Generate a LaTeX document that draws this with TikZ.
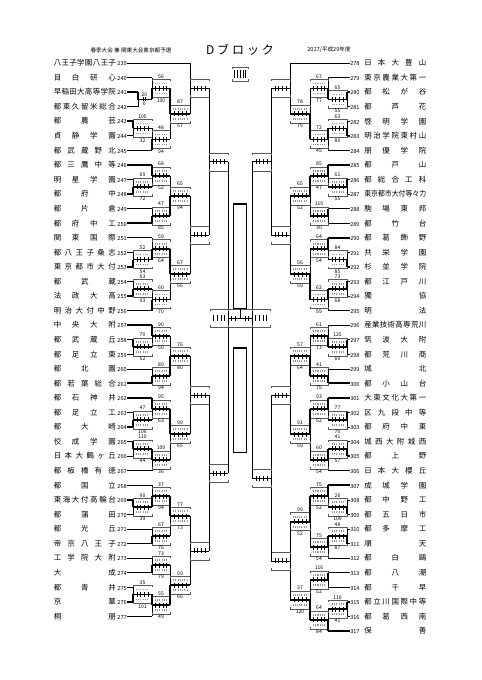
\documentclass[tikz,border=0pt]{standalone}
\usepackage{fontspec}
\setmainfont{Noto Sans CJK JP}
\usepackage{graphicx}

% names spread over the full width
\newcommand{\jn}[1]{\makebox[46.5pt][s]{\jsp#1\relax}}
\def\jsp#1{\ifx#1\relax\else#1\expandafter\jspnext\fi}
\def\jspnext#1{\ifx#1\relax\else\hfill#1\expandafter\jspnext\fi}
\newcommand{\jnx}[1]{\makebox[46.5pt]{\scalebox{0.92}[1]{#1}}}
\newcommand{\tn}[1]{{\fontsize{4.2}{5}\selectfont#1}}

% played game: name, joint x, far x, upper y, lower y, upper score, lower score
\newcommand{\game}[7]{%
  \pgfmathsetmacro{\gy}{(#4+#5)/2}%
  \draw[joint] (#2,#4) -- (#2,#5);
  \draw[bracket] (#2,\gy-7) -- (#2,\gy-9) -- (#3,\gy-9) -- (#3,\gy-7);
  \draw[bracket] (#2,\gy+7) -- (#2,\gy+9) -- (#3,\gy+9) -- (#3,\gy+7);
  \draw[digits] ({#2+0.15*(#3-#2)},\gy-5) -- ({#2+0.85*(#3-#2)},\gy-5);
  \draw[digits] ({#2+0.15*(#3-#2)},\gy+5) -- ({#2+0.85*(#3-#2)},\gy+5);
  \draw[win] (#2,\gy) -- (#3,\gy);
  \foreach \f in {0.2,0.4,0.6,0.8} \draw[tick] ({#2+\f*(#3-#2)},\gy-2.5) -- ++(0,5);
  \ifnum#6>#7\relax \draw[win] (#2,#4) -- (#2,\gy); \else \draw[win] (#2,#5) -- (#2,\gy); \fi
  \node[score, above] at ({(#2+#3)/2},\gy-9) {#6};
  \node[score, below] at ({(#2+#3)/2},\gy+9) {#7};
  \coordinate (#1) at (#3,\gy);
}
% game still to come
\newcommand{\opengame}[5]{%
  \pgfmathsetmacro{\gy}{(#4+#5)/2}%
  \draw[joint] (#2,#4) -- (#2,#5);
  \draw[bracket] (#2,\gy-7) -- (#2,\gy-9) -- (#3,\gy-9) -- (#3,\gy-7);
  \draw[bracket] (#2,\gy+7) -- (#2,\gy+9) -- (#3,\gy+9) -- (#3,\gy+7);
  \draw[joint] (#2,\gy) -- (#3,\gy);
  \foreach \f in {0.2,0.4,0.6,0.8} \draw[tick] ({#2+\f*(#3-#2)},\gy-2.5) -- ++(0,5);
  \coordinate (#1) at (#3,\gy);
}
% empty box of the block final
\newcommand{\blockbox}[3]{%
  \draw[bracket] (#1,#3-7) -- (#1,#3-9) -- (#2,#3-9) -- (#2,#3-7);
  \draw[bracket] (#1,#3+7) -- (#1,#3+9) -- (#2,#3+9) -- (#2,#3+7);
  \foreach \f in {0.2,0.4,0.6,0.8} \draw[tick] ({#1+\f*(#2-#1)},#3-3) -- ++(0,6);
}

\begin{document}
\begin{tikzpicture}[
    x=0.75pt, y=-0.75pt,
    every node/.style={inner sep=0pt},
    lteam/.style={anchor=east, font=\fontsize{5.6}{6}\selectfont},
    rteam/.style={anchor=west, font=\fontsize{5.6}{6}\selectfont},
    joint/.style={line width=0.45pt},
    win/.style={line width=1.3pt},
    bracket/.style={line width=0.3pt, black!65},
    digits/.style={black!40, line width=1.3pt, dash pattern=on 0.8pt off 0.9pt},
    tick/.style={line width=0.35pt},
    score/.style={font=\fontsize{3.8}{4}\selectfont, inner sep=0.5pt},
    ]
    \useasboundingbox (0,0) rectangle (481,680);

    % Header
    \node[font=\fontsize{4.2}{5}\selectfont] (title) at (131,50) {春季大会 兼 関東大会東京都予選};
    \node[font=\fontsize{9}{10}\selectfont] (block) at (240,50) {D\hspace{2.2pt}ブ\hspace{2.2pt}ロ\hspace{2.2pt}ッ\hspace{2.2pt}ク};
    \node[font=\fontsize{4.2}{5}\selectfont] (year) at (329,50) {2017/平成29年度};

    % Columns
    \coordinate (L1) at (133,0);
    \coordinate (Lx) at (138,0);
    \coordinate (L2) at (152,0);
    \coordinate (L4) at (190,0);
    \coordinate (R1) at (347,0);
    \coordinate (R2) at (328,0);
    \coordinate (R4) at (290,0);

    % Left teams
    \node[lteam] (t239) at (127,63.0) {\jn{八王子学園八王子}\hspace{1.2pt}\tn{239}};
    \node[lteam] (t240) at (127,77.6) {\jn{目白研心}\hspace{1.2pt}\tn{240}};
    \node[lteam] (t241) at (127,92.1) {\jn{早稲田大高等学院}\hspace{1.2pt}\tn{241}};
    \node[lteam] (t242) at (127,106.7) {\jn{都東久留米総合}\hspace{1.2pt}\tn{242}};
    \node[lteam] (t243) at (127,121.2) {\jn{都農芸}\hspace{1.2pt}\tn{243}};
    \node[lteam] (t244) at (127,135.8) {\jn{貞静学園}\hspace{1.2pt}\tn{244}};
    \node[lteam] (t245) at (127,150.4) {\jn{都武蔵野北}\hspace{1.2pt}\tn{245}};
    \node[lteam] (t246) at (127,164.9) {\jn{都三鷹中等}\hspace{1.2pt}\tn{246}};
    \node[lteam] (t247) at (127,179.5) {\jn{明星学園}\hspace{1.2pt}\tn{247}};
    \node[lteam] (t248) at (127,194.0) {\jn{都府中}\hspace{1.2pt}\tn{248}};
    \node[lteam] (t249) at (127,208.6) {\jn{都片倉}\hspace{1.2pt}\tn{249}};
    \node[lteam] (t250) at (127,223.2) {\jn{都府中工}\hspace{1.2pt}\tn{250}};
    \node[lteam] (t251) at (127,237.7) {\jn{関東国際}\hspace{1.2pt}\tn{251}};
    \node[lteam] (t252) at (127,252.3) {\jn{都八王子桑志}\hspace{1.2pt}\tn{252}};
    \node[lteam] (t253) at (127,266.8) {\jn{東京都市大付}\hspace{1.2pt}\tn{253}};
    \node[lteam] (t254) at (127,281.4) {\jn{都武蔵}\hspace{1.2pt}\tn{254}};
    \node[lteam] (t255) at (127,296.0) {\jn{法政大高}\hspace{1.2pt}\tn{255}};
    \node[lteam] (t256) at (127,310.5) {\jn{明治大付中野}\hspace{1.2pt}\tn{256}};
    \node[lteam] (t257) at (127,325.1) {\jn{中央大附}\hspace{1.2pt}\tn{257}};
    \node[lteam] (t258) at (127,339.6) {\jn{都武蔵丘}\hspace{1.2pt}\tn{258}};
    \node[lteam] (t259) at (127,354.2) {\jn{都足立東}\hspace{1.2pt}\tn{259}};
    \node[lteam] (t260) at (127,368.8) {\jn{都北園}\hspace{1.2pt}\tn{260}};
    \node[lteam] (t261) at (127,383.3) {\jn{都若葉総合}\hspace{1.2pt}\tn{261}};
    \node[lteam] (t262) at (127,397.9) {\jn{都石神井}\hspace{1.2pt}\tn{262}};
    \node[lteam] (t263) at (127,412.4) {\jn{都足立工}\hspace{1.2pt}\tn{263}};
    \node[lteam] (t264) at (127,427.0) {\jn{都大崎}\hspace{1.2pt}\tn{264}};
    \node[lteam] (t265) at (127,441.6) {\jn{佼成学園}\hspace{1.2pt}\tn{265}};
    \node[lteam] (t266) at (127,456.1) {\jn{日本大鶴ヶ丘}\hspace{1.2pt}\tn{266}};
    \node[lteam] (t267) at (127,470.7) {\jn{都板橋有徳}\hspace{1.2pt}\tn{267}};
    \node[lteam] (t268) at (127,485.2) {\jn{都国立}\hspace{1.2pt}\tn{268}};
    \node[lteam] (t269) at (127,499.8) {\jn{東海大付高輪台}\hspace{1.2pt}\tn{269}};
    \node[lteam] (t270) at (127,514.4) {\jn{都蒲田}\hspace{1.2pt}\tn{270}};
    \node[lteam] (t271) at (127,528.9) {\jn{都光丘}\hspace{1.2pt}\tn{271}};
    \node[lteam] (t272) at (127,543.5) {\jn{帝京八王子}\hspace{1.2pt}\tn{272}};
    \node[lteam] (t273) at (127,558.0) {\jn{工学院大附}\hspace{1.2pt}\tn{273}};
    \node[lteam] (t274) at (127,572.6) {\jn{大成}\hspace{1.2pt}\tn{274}};
    \node[lteam] (t275) at (127,587.2) {\jn{都青井}\hspace{1.2pt}\tn{275}};
    \node[lteam] (t276) at (127,601.7) {\jn{京華}\hspace{1.2pt}\tn{276}};
    \node[lteam] (t277) at (127,616.3) {\jn{桐朋}\hspace{1.2pt}\tn{277}};

    % Right teams
    \node[rteam] (t278) at (350,63.0) {\tn{278}\hspace{3.5pt}\jn{日本大豊山}};
    \node[rteam] (t279) at (350,77.6) {\tn{279}\hspace{3.5pt}\jn{東京農業大第一}};
    \node[rteam] (t280) at (350,92.1) {\tn{280}\hspace{3.5pt}\jn{都松が谷}};
    \node[rteam] (t281) at (350,106.7) {\tn{281}\hspace{3.5pt}\jn{都芦花}};
    \node[rteam] (t282) at (350,121.2) {\tn{282}\hspace{3.5pt}\jn{啓明学園}};
    \node[rteam] (t283) at (350,135.8) {\tn{283}\hspace{3.5pt}\jn{明治学院東村山}};
    \node[rteam] (t284) at (350,150.4) {\tn{284}\hspace{3.5pt}\jn{朋優学院}};
    \node[rteam] (t285) at (350,164.9) {\tn{285}\hspace{3.5pt}\jn{都戸山}};
    \node[rteam] (t286) at (350,179.5) {\tn{286}\hspace{3.5pt}\jn{都総合工科}};
    \node[rteam] (t287) at (350,194.0) {\tn{287}\hspace{3.5pt}\jnx{東京都市大付等々力}};
    \node[rteam] (t288) at (350,208.6) {\tn{288}\hspace{3.5pt}\jn{駒場東邦}};
    \node[rteam] (t289) at (350,223.2) {\tn{289}\hspace{3.5pt}\jn{都竹台}};
    \node[rteam] (t290) at (350,237.7) {\tn{290}\hspace{3.5pt}\jn{都葛飾野}};
    \node[rteam] (t291) at (350,252.3) {\tn{291}\hspace{3.5pt}\jn{共栄学園}};
    \node[rteam] (t292) at (350,266.8) {\tn{292}\hspace{3.5pt}\jn{杉並学院}};
    \node[rteam] (t293) at (350,281.4) {\tn{293}\hspace{3.5pt}\jn{都江戸川}};
    \node[rteam] (t294) at (350,296.0) {\tn{294}\hspace{3.5pt}\jn{獨協}};
    \node[rteam] (t295) at (350,310.5) {\tn{295}\hspace{3.5pt}\jn{明法}};
    \node[rteam] (t296) at (350,325.1) {\tn{296}\hspace{3.5pt}\jn{産業技術高専荒川}};
    \node[rteam] (t297) at (350,339.6) {\tn{297}\hspace{3.5pt}\jn{筑波大附}};
    \node[rteam] (t298) at (350,354.2) {\tn{298}\hspace{3.5pt}\jn{都荒川商}};
    \node[rteam] (t299) at (350,368.8) {\tn{299}\hspace{3.5pt}\jn{城北}};
    \node[rteam] (t300) at (350,383.3) {\tn{300}\hspace{3.5pt}\jn{都小山台}};
    \node[rteam] (t301) at (350,397.9) {\tn{301}\hspace{3.5pt}\jn{大東文化大第一}};
    \node[rteam] (t302) at (350,412.4) {\tn{302}\hspace{3.5pt}\jn{区九段中等}};
    \node[rteam] (t303) at (350,427.0) {\tn{303}\hspace{3.5pt}\jn{都府中東}};
    \node[rteam] (t304) at (350,441.6) {\tn{304}\hspace{3.5pt}\jn{城西大附城西}};
    \node[rteam] (t305) at (350,456.1) {\tn{305}\hspace{3.5pt}\jn{都上野}};
    \node[rteam] (t306) at (350,470.7) {\tn{306}\hspace{3.5pt}\jn{日本大櫻丘}};
    \node[rteam] (t307) at (350,485.2) {\tn{307}\hspace{3.5pt}\jn{成城学園}};
    \node[rteam] (t308) at (350,499.8) {\tn{308}\hspace{3.5pt}\jn{都中野工}};
    \node[rteam] (t309) at (350,514.4) {\tn{309}\hspace{3.5pt}\jn{都五日市}};
    \node[rteam] (t310) at (350,528.9) {\tn{310}\hspace{3.5pt}\jn{都多摩工}};
    \node[rteam] (t311) at (350,543.5) {\tn{311}\hspace{3.5pt}\jn{順天}};
    \node[rteam] (t312) at (350,558.0) {\tn{312}\hspace{3.5pt}\jn{都白鷗}};
    \node[rteam] (t313) at (350,572.6) {\tn{313}\hspace{3.5pt}\jn{都八潮}};
    \node[rteam] (t314) at (350,587.2) {\tn{314}\hspace{3.5pt}\jn{都千早}};
    \node[rteam] (t315) at (350,601.7) {\tn{315}\hspace{3.5pt}\jn{都立川国際中等}};
    \node[rteam] (t316) at (350,616.3) {\tn{316}\hspace{3.5pt}\jn{都葛西南}};
    \node[rteam] (t317) at (350,630.8) {\tn{317}\hspace{3.5pt}\jn{保善}};

    % Left lines
    \draw[joint] (t239.east) -- (t239.east -| L4);
    \draw[joint] (t240.east) -- (t240.east -| L2);
    \draw[win] (t241.east) -- (t241.east -| Lx);
    \draw[joint] (t242.east) -- (t242.east -| Lx);
    \draw[win] (t243.east) -- (t243.east -| L1);
    \draw[joint] (t244.east) -- (t244.east -| L1);
    \draw[win] (t245.east) -- (t245.east -| L2);
    \draw[win] (t246.east) -- (t246.east -| L2);
    \draw[joint] (t247.east) -- (t247.east -| L1);
    \draw[win] (t248.east) -- (t248.east -| L1);
    \draw[joint] (t249.east) -- (t249.east -| L2);
    \draw[win] (t250.east) -- (t250.east -| L2);
    \draw[joint] (t251.east) -- (t251.east -| L2);
    \draw[joint] (t252.east) -- (t252.east -| L1);
    \draw[win] (t253.east) -- (t253.east -| L1);
    \draw[joint] (t254.east) -- (t254.east -| L1);
    \draw[win] (t255.east) -- (t255.east -| L1);
    \draw[win] (t256.east) -- (t256.east -| L2);
    \draw[win] (t257.east) -- (t257.east -| L2);
    \draw[win] (t258.east) -- (t258.east -| L1);
    \draw[joint] (t259.east) -- (t259.east -| L1);
    \draw[joint] (t260.east) -- (t260.east -| L2);
    \draw[win] (t261.east) -- (t261.east -| L2);
    \draw[win] (t262.east) -- (t262.east -| L2);
    \draw[joint] (t263.east) -- (t263.east -| L1);
    \draw[win] (t264.east) -- (t264.east -| L1);
    \draw[win] (t265.east) -- (t265.east -| L1);
    \draw[joint] (t266.east) -- (t266.east -| L1);
    \draw[joint] (t267.east) -- (t267.east -| L2);
    \draw[joint] (t268.east) -- (t268.east -| L2);
    \draw[win] (t269.east) -- (t269.east -| L1);
    \draw[joint] (t270.east) -- (t270.east -| L1);
    \draw[joint] (t271.east) -- (t271.east -| L2);
    \draw[win] (t272.east) -- (t272.east -| L2);
    \draw[joint] (t273.east) -- (t273.east -| L2);
    \draw[win] (t274.east) -- (t274.east -| L2);
    \draw[joint] (t275.east) -- (t275.east -| L1);
    \draw[win] (t276.east) -- (t276.east -| L1);
    \draw[joint] (t277.east) -- (t277.east -| L2);

    % Right lines
    \draw[joint] (t278.west) -- (t278.west -| R4);
    \draw[joint] (t279.west) -- (t279.west -| R2);
    \draw[win] (t280.west) -- (t280.west -| R1);
    \draw[joint] (t281.west) -- (t281.west -| R1);
    \draw[joint] (t282.west) -- (t282.west -| R1);
    \draw[win] (t283.west) -- (t283.west -| R1);
    \draw[joint] (t284.west) -- (t284.west -| R2);
    \draw[win] (t285.west) -- (t285.west -| R2);
    \draw[win] (t286.west) -- (t286.west -| R1);
    \draw[joint] (t287.west) -- (t287.west -| R1);
    \draw[win] (t288.west) -- (t288.west -| R2);
    \draw[joint] (t289.west) -- (t289.west -| R2);
    \draw[win] (t290.west) -- (t290.west -| R2);
    \draw[joint] (t291.west) -- (t291.west -| R1);
    \draw[win] (t292.west) -- (t292.west -| R1);
    \draw[win] (t293.west) -- (t293.west -| R1);
    \draw[joint] (t294.west) -- (t294.west -| R1);
    \draw[joint] (t295.west) -- (t295.west -| R2);
    \draw[joint] (t296.west) -- (t296.west -| R2);
    \draw[win] (t297.west) -- (t297.west -| R1);
    \draw[joint] (t298.west) -- (t298.west -| R1);
    \draw[joint] (t299.west) -- (t299.west -| R2);
    \draw[win] (t300.west) -- (t300.west -| R2);
    \draw[win] (t301.west) -- (t301.west -| R2);
    \draw[win] (t302.west) -- (t302.west -| R1);
    \draw[joint] (t303.west) -- (t303.west -| R1);
    \draw[joint] (t304.west) -- (t304.west -| R1);
    \draw[win] (t305.west) -- (t305.west -| R1);
    \draw[joint] (t306.west) -- (t306.west -| R2);
    \draw[win] (t307.west) -- (t307.west -| R2);
    \draw[joint] (t308.west) -- (t308.west -| R1);
    \draw[win] (t309.west) -- (t309.west -| R1);
    \draw[joint] (t310.west) -- (t310.west -| R1);
    \draw[win] (t311.west) -- (t311.west -| R1);
    \draw[joint] (t312.west) -- (t312.west -| R2);
    \draw[win] (t313.west) -- (t313.west -| R2);
    \draw[joint] (t314.west) -- (t314.west -| R2);
    \draw[win] (t315.west) -- (t315.west -| R1);
    \draw[joint] (t316.west) -- (t316.west -| R1);
    \draw[win] (t317.west) -- (t317.west -| R2);

    % Left games 239-245
    \draw[joint] (138,92.1) -- (138,106.7);
    \draw[win] (138,92.1) -- (138,99.4) -- (152,99.4);
    \draw[tick] (143.6,97.4) -- ++(0,4) (145.2,97.4) -- ++(0,4);
    \node[score, above] (s241) at (144.4,97.6) {20};
    \node[score, below] (s242) at (144.4,101.2) {0};
    \game{a2}{133}{152}{121.2}{135.8}{105}{32}
    \game{a3}{152}{170}{77.6}{99.4}{56}{100}
    \game{a4}{152}{170}{128.5}{150.4}{48}{94}
    \game{a5}{170}{190}{88.5}{139.4}{87}{57}
    \opengame{a6}{190}{209}{63.0}{114.0}

    % Left games 246-256
    \game{b1}{133}{152}{179.5}{194.0}{69}{72}
    \game{b2}{152}{170}{164.9}{186.8}{68}{52}
    \game{b3}{152}{170}{208.6}{223.2}{47}{85}
    \game{b4}{170}{190}{175.8}{215.9}{65}{94}
    \game{b5}{133}{152}{252.3}{266.8}{52}{54}
    \game{b6}{152}{170}{237.7}{259.6}{59}{64}
    \game{b7}{133}{152}{281.4}{296.0}{53}{93}
    \game{b8}{152}{170}{288.7}{310.5}{60}{70}
    \game{b9}{170}{190}{248.7}{299.6}{67}{56}
    \opengame{b10}{190}{209}{195.9}{274.1}
    \opengame{ab}{209}{228}{88.5}{235.0}

    % Left games 257-267
    \game{c1}{133}{152}{339.6}{354.2}{70}{62}
    \game{c2}{152}{170}{325.1}{346.9}{90}{50}
    \game{c3}{152}{170}{368.8}{383.3}{89}{94}
    \game{c4}{170}{190}{336.0}{376.0}{76}{80}
    \game{c5}{133}{152}{412.4}{427.0}{47}{106}
    \game{c6}{152}{170}{397.9}{419.7}{95}{63}
    \game{c7}{133}{152}{441.6}{456.1}{110}{44}
    \game{c8}{152}{170}{448.8}{470.7}{109}{36}
    \game{c9}{170}{190}{408.8}{459.8}{99}{65}
    \opengame{c10}{190}{209}{356.0}{434.3}

    % Left games 268-277
    \game{d1}{133}{152}{499.8}{514.4}{90}{39}
    \game{d2}{152}{170}{485.2}{507.1}{37}{94}
    \game{d3}{152}{170}{528.9}{543.5}{67}{76}
    \game{d4}{170}{190}{496.2}{536.2}{77}{73}
    \game{d5}{152}{170}{558.0}{572.6}{73}{79}
    \game{d6}{133}{152}{587.2}{601.7}{35}{101}
    \game{d7}{152}{170}{594.4}{616.3}{55}{49}
    \game{d8}{170}{190}{565.3}{605.4}{59}{66}
    \opengame{d9}{190}{209}{516.2}{585.4}
    \opengame{cd}{209}{228}{395.2}{550.8}

    % Right games 278-284
    \game{e1}{347}{328}{92.1}{106.7}{65}{55}
    \game{e2}{328}{310}{77.6}{99.4}{67}{77}
    \game{e3}{347}{328}{121.2}{135.8}{63}{80}
    \game{e4}{328}{310}{128.5}{150.4}{72}{45}
    \game{e5}{310}{290}{88.5}{139.4}{78}{79}
    \opengame{e6}{290}{271}{63.0}{114.0}

    % Right games 285-295
    \game{f1}{347}{328}{179.5}{194.0}{61}{55}
    \game{f2}{328}{310}{164.9}{186.8}{85}{47}
    \game{f3}{328}{310}{208.6}{223.2}{119}{30}
    \game{f4}{310}{290}{175.8}{215.9}{65}{52}
    \game{f5}{347}{328}{252.3}{266.8}{84}{85}
    \game{f6}{328}{310}{237.7}{259.6}{64}{54}
    \game{f7}{347}{328}{281.4}{296.0}{73}{68}
    \game{f8}{328}{310}{288.7}{310.5}{62}{59}
    \game{f9}{310}{290}{248.7}{299.6}{56}{59}
    \opengame{f10}{290}{271}{195.9}{274.1}
    \opengame{ef}{271}{252}{88.5}{235.0}

    % Right games 296-306
    \game{g1}{347}{328}{339.6}{354.2}{125}{60}
    \game{g2}{328}{310}{325.1}{346.9}{61}{73}
    \game{g3}{328}{310}{368.8}{383.3}{41}{75}
    \game{g4}{310}{290}{336.0}{376.0}{57}{64}
    \game{g5}{347}{328}{412.4}{427.0}{77}{70}
    \game{g6}{328}{310}{397.9}{419.7}{93}{52}
    \game{g7}{347}{328}{441.6}{456.1}{41}{57}
    \game{g8}{328}{310}{448.8}{470.7}{60}{54}
    \game{g9}{310}{290}{408.8}{459.8}{91}{59}
    \opengame{g10}{290}{271}{356.0}{434.3}

    % Right games 307-317
    \game{h1}{347}{328}{499.8}{514.4}{26}{100}
    \game{h2}{328}{310}{485.2}{507.1}{75}{52}
    \game{h3}{347}{328}{528.9}{543.5}{48}{87}
    \game{h4}{328}{310}{536.2}{558.0}{75}{54}
    \game{h5}{310}{290}{496.2}{547.1}{99}{52}
    \game{h6}{328}{310}{572.6}{587.2}{116}{52}
    \game{h7}{347}{328}{601.7}{616.3}{110}{41}
    \game{h8}{328}{310}{609.0}{630.8}{64}{84}
    \game{h9}{310}{290}{579.9}{619.9}{37}{120}
    \opengame{h10}{290}{271}{521.7}{599.9}
    \opengame{gh}{271}{252}{395.2}{560.8}

    % Block finals and final
    \draw[joint] (ab) -- (cd);
    \draw[joint] (ef) -- (gh);
    \blockbox{210}{228}{318}
    \blockbox{252}{270}{318}
    \draw[bracket] (228,311) -- (228,309) -- (252,309) -- (252,311);
    \draw[bracket] (228,325) -- (228,327) -- (252,327) -- (252,325);
    \draw[joint] (228,318) -- (252,318);
    \foreach \f in {0.15,0.3,0.7,0.85} \draw[tick] ({228+\f*24},315.5) -- ++(0,5);
    \draw[joint] (240,309) -- (240,318);

    % Winner boxes
    \draw[line width=1.1pt] (233.5,204) rectangle (246.5,308.5);
    \draw[line width=1.1pt] (233.5,348) rectangle (246.5,452.5);

    % Legend box
    \draw[bracket] (232,69) -- (232,67) -- (248,67) -- (248,69);
    \draw[bracket] (232,79) -- (232,81) -- (248,81) -- (248,79);
    \foreach \f in {0.15,0.325,0.5,0.675,0.85} \draw[tick] ({232+\f*16},70) -- ++(0,8);
  \end{tikzpicture}
\end{document}
